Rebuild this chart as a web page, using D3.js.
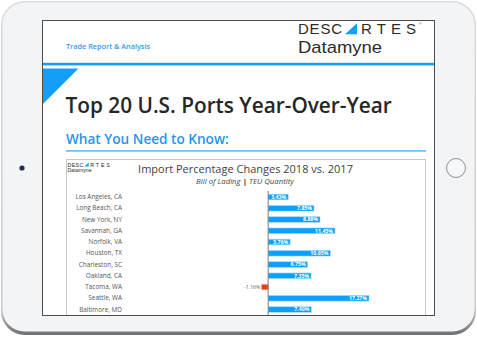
<!DOCTYPE html>
<html>
<head>
<meta charset="utf-8">
<script src="https://cdn.jsdelivr.net/npm/d3@7"></script>
<style>
  html, body { margin: 0; padding: 0; background: #ffffff; }
  svg { display: block; }
</style>
</head>
<body>
<svg id="chart" width="477" height="338"></svg>
<script>
// Ports and their 2018 vs. 2017 import change (TEU), in percent
const ports = [
  "Los Angeles, CA", "Long Beach, CA", "New York, NY", "Savannah, GA",
  "Norfolk, VA", "Houston, TX", "Charleston, SC", "Oakland, CA",
  "Tacoma, WA", "Seattle, WA", "Baltimore, MD"
];
const changes = [3.43, 7.85, 8.88, 11.45, 3.76, 10.65, 6.75, 7.35, -1.16, 17.27, 7.40];

const pageTitle = "Top 20 U.S. Ports Year-Over-Year";
const sectionTitle = "What You Need to Know:";
const chartTitle = "Import Percentage Changes 2018 vs. 2017";

const svg = d3.select("#chart");
const blue = "#139ff5";

// ---- tablet frame ----
const defs = svg.append("defs");
const rim = defs.append("linearGradient").attr("id", "rim").attr("x1", 0).attr("y1", 0).attr("x2", 0).attr("y2", 1);
rim.append("stop").attr("offset", "0%").attr("stop-color", "#d9dadc");
rim.append("stop").attr("offset", "92%").attr("stop-color", "#c9cacc");
rim.append("stop").attr("offset", "100%").attr("stop-color", "#6d6e70");

svg.append("rect").attr("x", 1).attr("y", 1).attr("width", 475).attr("height", 334)
  .attr("rx", 24).attr("fill", "url(#rim)");
svg.append("rect").attr("x", 2.5).attr("y", 2.5).attr("width", 472).attr("height", 329)
  .attr("rx", 22).attr("fill", "#f3f4f6");

// camera and home button
svg.append("circle").attr("cx", 22).attr("cy", 168).attr("r", 2.6).attr("fill", "#1d2f55");
svg.append("circle").attr("cx", 22).attr("cy", 176).attr("r", 0.8).attr("fill", "#d8dadd");
svg.append("circle").attr("cx", 456).attr("cy", 168).attr("r", 9.5)
  .attr("fill", "#f6f7f8").attr("stroke", "#8e8f91").attr("stroke-width", 1);

// ---- screen ----
const scr = { x: 43, y: 21, w: 391, h: 294 };
defs.append("clipPath").attr("id", "screen").append("rect")
  .attr("x", scr.x).attr("y", scr.y).attr("width", scr.w).attr("height", scr.h);
svg.append("rect").attr("x", scr.x - 0.5).attr("y", scr.y - 0.5)
  .attr("width", scr.w + 1).attr("height", scr.h + 1)
  .attr("fill", "#ffffff").attr("stroke", "#4a4b4d").attr("stroke-width", 1);

const page = svg.append("g").attr("clip-path", "url(#screen)");

page.append("text").attr("x", 66).attr("y", 48.5)
  .attr("font-family", "Open Sans").attr("font-weight", 600).attr("font-size", 7.3)
  .attr("fill", "#2e9cf0").text("Trade Report & Analysis");

// Descartes Datamyne wordmark: spaced letters with a blue triangle in place of the A
function wordmark(g, x, y, size, nameSize) {
  const s = size / 15;
  const font = (sel) => sel.attr("font-family", "Liberation Sans").attr("font-size", size).attr("fill", "#2b2b2b");
  g.append("text").attr("x", x).attr("y", y).call(font)
    .attr("textLength", 44 * s).attr("lengthAdjust", "spacing").text("DESC");
  g.append("text").attr("x", x + 63 * s).attr("y", y).call(font)
    .attr("textLength", 55 * s).attr("lengthAdjust", "spacing").text("RTES");
  g.append("path")
    .attr("d", `M${x + 47 * s},${y} L${x + 59 * s},${y - 11 * s} L${x + 59 * s},${y} Z`)
    .attr("fill", blue);
  g.append("text").attr("x", x + 121 * s).attr("y", y - 9 * s)
    .attr("font-family", "Liberation Sans").attr("font-size", 3.5 * s).attr("fill", "#444").text("®");
  g.append("text").attr("x", x).attr("y", y + 18.3 * s * nameSize)
    .attr("font-family", "Liberation Sans").attr("font-size", 16.4 * s * nameSize).attr("fill", "#2b2b2b")
    .attr("textLength", 84 * s * nameSize).attr("lengthAdjust", "spacingAndGlyphs")
    .text("Datamyne");
}
wordmark(page, 298, 34.3, 15, 1);

page.append("rect").attr("x", scr.x).attr("y", 62.8).attr("width", scr.w).attr("height", 2.6).attr("fill", blue);
page.append("path").attr("d", "M43,68.5 L78.5,68.5 L43,104 Z").attr("fill", blue);

page.append("text").attr("x", 65.5).attr("y", 112.5)
  .attr("font-family", "Open Sans").attr("font-weight", 600).attr("font-size", 20.8)
  .attr("fill", "#262626").text(pageTitle);

page.append("text").attr("x", 66).attr("y", 144)
  .attr("font-family", "Open Sans").attr("font-weight", 600).attr("font-size", 13.6)
  .attr("fill", "#1d97f2").text(sectionTitle);
page.append("rect").attr("x", 66).attr("y", 150.4).attr("width", 360).attr("height", 1.1).attr("fill", blue);

// ---- embedded bar chart ----
page.append("rect").attr("x", 66.5).attr("y", 159.5).attr("width", 359).attr("height", 170)
  .attr("fill", "#ffffff").attr("stroke", "#c8c8c8").attr("stroke-width", 1);

wordmark(page, 67.5, 166.5, 5.4, 0.8);

page.append("text").attr("x", 245.5).attr("y", 172.5).attr("text-anchor", "middle")
  .attr("font-family", "Open Sans").attr("font-size", 11).attr("fill", "#3f3f3f").text(chartTitle);
const sub = page.append("text").attr("x", 245).attr("y", 183.5).attr("text-anchor", "middle")
  .attr("font-family", "Open Sans").attr("font-style", "italic").attr("font-size", 7.8).attr("fill", "#4a4a4a");
sub.append("tspan").text("Bill of Lading ");
sub.append("tspan").attr("font-style", "normal").attr("font-weight", 700).attr("fill", "#222").text("|");
sub.append("tspan").text(" TEU Quantity");

const x = d3.scaleLinear().domain([-24, 26]).range([128, 420]);
const y = d3.scaleBand().domain(ports).range([191.4, 191.4 + ports.length * 11.25]).paddingInner(0.5).paddingOuter(0.25);

// port names
const yAxis = d3.axisLeft(y).tickSize(0).tickPadding(0);
const ya = page.append("g").attr("transform", "translate(122,0)").call(yAxis);
ya.select(".domain").remove();
ya.selectAll("text").attr("font-family", "Open Sans").attr("font-size", 6.4).attr("fill", "#555");

const bars = page.append("g");
ports.forEach((p, i) => {
  const v = changes[i];
  const x0 = x(Math.min(0, v)), x1 = x(Math.max(0, v));
  bars.append("rect").attr("x", x0).attr("y", y(p)).attr("width", x1 - x0).attr("height", y.bandwidth())
    .attr("fill", v < 0 ? "#ee3d1c" : "#0aa0ff")
    .attr("stroke", v < 0 ? "#f8b7a6" : "#a9dcff").attr("stroke-width", 0.6);
  const label = v.toFixed(2) + "%";
  if (v >= 0) {
    bars.append("text").attr("x", x(v) - 2).attr("y", y(p) + y.bandwidth() / 2 + 1.9)
      .attr("text-anchor", "end").attr("font-family", "Open Sans").attr("font-weight", 700)
      .attr("font-size", 5.2).attr("fill", "#ffffff").text(label);
  } else {
    bars.append("text").attr("x", x(v) - 1).attr("y", y(p) + y.bandwidth() / 2 + 1.9)
      .attr("text-anchor", "end").attr("font-family", "Open Sans")
      .attr("font-size", 5.2).attr("fill", "#666").text(label);
  }
});

// zero line
page.append("line").attr("x1", x(0)).attr("x2", x(0)).attr("y1", 191).attr("y2", 330)
  .attr("stroke", "#7d7d7d").attr("stroke-width", 1);
</script>
</body>
</html>
